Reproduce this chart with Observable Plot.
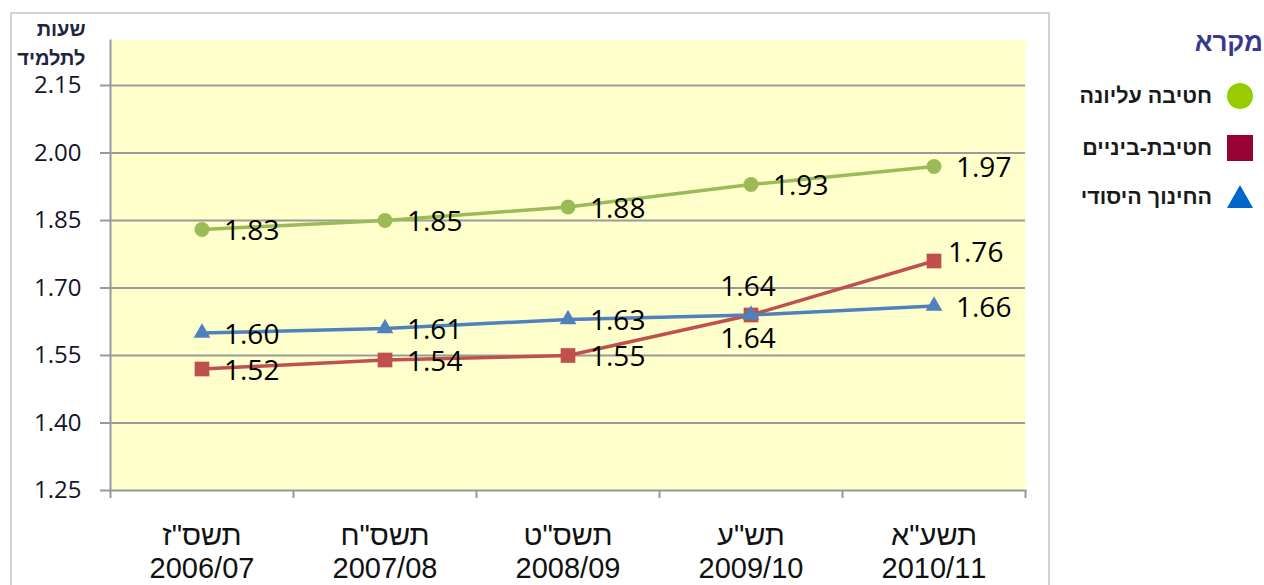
<!DOCTYPE html>
<html><head><meta charset="utf-8">
<script src="https://cdn.jsdelivr.net/npm/d3@7"></script>
<script src="https://cdn.jsdelivr.net/npm/@observablehq/plot@0.6"></script>
<style>
html,body{margin:0;padding:0;background:#fff;overflow:hidden}
#wrap{position:relative;width:1264px;height:585px;overflow:hidden}
#border{position:absolute;left:10px;top:12px;width:1036px;height:640px;border:2px solid #d2d2d2}
#chart{position:absolute;left:0;top:0}
.lg{position:absolute;direction:rtl;white-space:nowrap;font-family:"Liberation Sans",Arial,sans-serif}
</style></head><body>
<div id="wrap"><div id="border"></div><div id="chart"></div><div id="legend"></div></div>
<script>
const hebrewYears = ['תשס"ז', 'תשס"ח', 'תשס"ט', 'תש"ע', 'תשע"א'];
const schoolYears = ["2006/07", "2007/08", "2008/09", "2009/10", "2010/11"];
const extraNote = ["", "", "", "", "ארצי"];
const seriesNames = ["חטיבה עליונה", "חטיבת-ביניים", "החינוך היסודי"];
const upperSecondary = [1.83, 1.85, 1.88, 1.93, 1.97];
const middleSchool = [1.52, 1.54, 1.55, 1.64, 1.76];
const primary = [1.60, 1.61, 1.63, 1.64, 1.66];
const yTicks = [1.25, 1.40, 1.55, 1.70, 1.85, 2.00, 2.15];
const yTitle = "שעות\nלתלמיד";
const legendTitle = "מקרא";

const seriesValues = [upperSecondary, middleSchool, primary];
const lineColors = ["#9BBB59", "#C0504D", "#4F81BD"];
const legendColors = ["#99CC00", "#990033", "#0066CC"];
const symbols = ["circle", "square", "triangle"];
const radii = [7.5, 8.3, 6.2];

const rows = [];
seriesValues.forEach((vals, s) => vals.forEach((v, i) => rows.push({s, series: seriesNames[s], i, value: v})));

// label placement (style)
function placement(d) {
  if (d.s === 2 && d.i === 3) return "above";
  if (d.s === 1 && d.i === 3) return "below";
  if (d.s === 1 && d.i === 4) return "upright";
  return "right";
}
const labelStyles = {
  right: {dx: 22, dy: 2, textAnchor: "start"},
  above: {dx: -3, dy: -28, textAnchor: "middle"},
  below: {dx: -3, dy: 24, textAnchor: "middle"},
  upright: {dx: 14, dy: -8, textAnchor: "start"}
};

const marks = [
  Plot.frame({fill: "#FFFFCC", stroke: null}),
  Plot.gridY(yTicks.filter(v => v > 1.25), {stroke: "#9a9a9a", strokeOpacity: 1, strokeWidth: 2}),
  Plot.axisY(yTicks, {tickSize: 10, tickPadding: 19, tickFormat: d3.format(".2f"), fontSize: 24,
    fontFamily: "Open Sans", fill: "#14142a", stroke: "#999", strokeWidth: 2, label: null}),
  Plot.axisX(d3.range(-0.5, 5, 1), {tickSize: 8, tickFormat: () => "", stroke: "#999", strokeWidth: 2, label: null}),
  Plot.axisX(d3.range(5), {tickSize: 0, tickPadding: 31,
    tickFormat: i => hebrewYears[i] + "\n" + schoolYears[i] + (extraNote[i] ? "\n" + extraNote[i] : ""),
    fontSize: 29, lineHeight: 1.14, fontFamily: "Liberation Sans", fill: "#111", label: null}),
  Plot.frame({anchor: "left", stroke: "#999", strokeWidth: 2}),
  Plot.frame({anchor: "bottom", stroke: "#999", strokeWidth: 2}),
  Plot.text([yTitle], {frameAnchor: "top-left", dx: -25, dy: -25, textAnchor: "end", lineAnchor: "top",
    fontSize: 20, fontWeight: "bold", lineHeight: 1.45, fontFamily: "Liberation Sans", fill: "#1f2540"})
];
seriesValues.forEach((vals, s) => {
  const data = rows.filter(d => d.s === s);
  marks.push(Plot.line(data, {x: "i", y: "value", stroke: lineColors[s], strokeWidth: 3.5}));
  marks.push(Plot.dot(data, {x: "i", y: "value", symbol: () => symbols[s], r: radii[s], fill: lineColors[s], stroke: null}));
});
for (const [key, st] of Object.entries(labelStyles)) {
  marks.push(Plot.text(rows.filter(d => placement(d) === key), {
    x: "i", y: "value", text: d => d.value.toFixed(2), ...st,
    fontSize: 28, fontWeight: 500, fontFamily: "Open Sans", fill: "#000"
  }));
}

const chart = Plot.plot({
  width: 1264, height: 585,
  marginLeft: 110, marginRight: 239, marginTop: 40, marginBottom: 95,
  x: {type: "linear", domain: [-0.5, 4.5], axis: null},
  y: {domain: [1.25, 2.25], axis: null},
  symbol: {type: "identity"},
  style: {background: "transparent", fontFamily: "Open Sans", overflow: "visible"},
  marks
});
document.getElementById("chart").appendChild(chart);

// legend (HTML)
const lg = document.getElementById("legend");
const t = document.createElement("div");
t.className = "lg";
t.textContent = legendTitle;
Object.assign(t.style, {right: "1px", top: "27px", fontSize: "26px", fontWeight: "bold", color: "#3a3a8c", lineHeight: "30px"});
lg.appendChild(t);
const centers = [96, 148, 197];
seriesNames.forEach((name, s) => {
  const d = document.createElement("div");
  d.className = "lg";
  d.textContent = name;
  Object.assign(d.style, {right: "52px", top: (centers[s] - 13) + "px", fontSize: "21.5px", fontWeight: "bold", color: "#1a1a1a", lineHeight: "26px"});
  lg.appendChild(d);
  const ns = "http://www.w3.org/2000/svg";
  const svg = document.createElementNS(ns, "svg");
  svg.setAttribute("width", 28); svg.setAttribute("height", 28);
  svg.style.position = "absolute";
  svg.style.left = "1226px"; svg.style.top = (centers[s] - 14) + "px";
  let shape;
  if (s === 0) { shape = document.createElementNS(ns, "circle"); shape.setAttribute("cx", 14); shape.setAttribute("cy", 14); shape.setAttribute("r", 13); }
  else if (s === 1) { shape = document.createElementNS(ns, "rect"); shape.setAttribute("x", 1); shape.setAttribute("y", 1); shape.setAttribute("width", 26); shape.setAttribute("height", 26); }
  else { shape = document.createElementNS(ns, "polygon"); shape.setAttribute("points", "14,2 27,25 1,25"); }
  shape.setAttribute("fill", legendColors[s]);
  svg.appendChild(shape);
  lg.appendChild(svg);
});
</script>
</body></html>
